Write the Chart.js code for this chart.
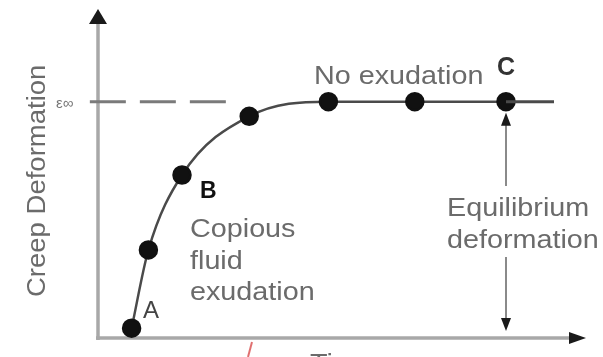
<!DOCTYPE html>
<html>
<head>
<meta charset="utf-8">
<title>Creep Deformation vs Time</title>
<script src="https://cdn.jsdelivr.net/npm/chart.js@4/dist/chart.umd.min.js"></script>
<style>
  html, body { margin: 0; padding: 0; background: #fff; }
  #wrap { width: 603px; height: 357px; }
  canvas { filter: blur(0.5px); }
</style>
</head>
<body>
<div id="wrap"><canvas id="c" width="603" height="357"></canvas></div>
<script>
// Measured creep curve (arbitrary units)
const time  = [7, 10.5, 17.5, 31.5, 48, 66, 85];
const creep = [3, 27, 50, 68, 72.5, 72.5, 72.5];
// Equilibrium deformation level (epsilon infinity)
const epsInf = 72.5;
// Where the plateau line and the dashed reference line end
const plateauEnd = 95;
const dashStart = -1.7;
const dashEnd = 27;
// Point at which the equilibrium deformation is marked
const markTime = 85;

const FONT = '"Liberation Sans", Arial, sans-serif';

function drawText(ctx, str, x, y, size, color, bold, sx) {
  ctx.save();
  ctx.font = (bold ? 'bold ' : '') + size + 'px ' + FONT;
  ctx.fillStyle = color;
  ctx.textBaseline = 'alphabetic';
  ctx.textAlign = 'left';
  ctx.translate(x, y);
  ctx.scale(sx || 1, 1);
  ctx.fillText(str, 0, 0);
  ctx.restore();
}

function tri(ctx, ax, ay, bx1, by1, bx2, by2, color) {
  ctx.beginPath();
  ctx.moveTo(ax, ay);
  ctx.lineTo(bx1, by1);
  ctx.lineTo(bx2, by2);
  ctx.closePath();
  ctx.fillStyle = color;
  ctx.fill();
}

const axesPlugin = {
  id: 'arrowAxes',
  beforeDatasetsDraw(chart) {
    const ctx = chart.ctx;
    const xs = chart.scales.x, ys = chart.scales.y;
    const x0 = xs.getPixelForValue(0);
    const y0 = ys.getPixelForValue(0);
    ctx.save();
    ctx.strokeStyle = '#a8a8a8';
    ctx.lineWidth = 3.5;
    // y axis
    ctx.beginPath();
    ctx.moveTo(x0, y0 + 2);
    ctx.lineTo(x0, 20);
    ctx.stroke();
    // x axis
    ctx.beginPath();
    ctx.moveTo(x0 - 2, y0);
    ctx.lineTo(572, y0);
    ctx.stroke();
    tri(ctx, x0, 9, x0 - 9, 24, x0 + 9, 24, '#1a1a1a');
    tri(ctx, 586, y0, 569, y0 - 6, 569, y0 + 6, '#1a1a1a');

    // equilibrium deformation double arrow
    const xm = xs.getPixelForValue(markTime);
    const yTop = ys.getPixelForValue(epsInf) + 11;
    const yBot = y0 - 7;
    ctx.strokeStyle = '#8a8a8a';
    ctx.lineWidth = 2;
    ctx.beginPath();
    ctx.moveTo(xm, yTop + 10);
    ctx.lineTo(xm, 186);
    ctx.moveTo(xm, 257);
    ctx.lineTo(xm, yBot - 10);
    ctx.stroke();
    tri(ctx, xm, yTop, xm - 5, yTop + 13, xm + 5, yTop + 13, '#1a1a1a');
    tri(ctx, xm, yBot, xm - 5, yBot - 13, xm + 5, yBot - 13, '#1a1a1a');

    // small red tick below the time axis
    ctx.strokeStyle = '#e07070';
    ctx.lineWidth = 2;
    ctx.beginPath();
    ctx.moveTo(252, 342);
    ctx.lineTo(248, 357);
    ctx.stroke();
    ctx.restore();
  },
  afterDatasetsDraw(chart) {
    const ctx = chart.ctx;
    const grey = '#6b6b6b';
    drawText(ctx, 'ε∞', 56, 108, 15, '#777', false, 1);
    drawText(ctx, 'No exudation', 314, 84, 25, grey, false, 1.15);
    drawText(ctx, 'C', 497, 75, 25, '#333', true, 1.0);
    drawText(ctx, 'B', 200, 198, 23, '#111', true, 1.0);
    drawText(ctx, 'A', 143, 318, 24, '#444', false, 1.0);
    drawText(ctx, 'Copious', 190, 237, 25, grey, false, 1.15);
    drawText(ctx, 'fluid', 190, 269, 25, grey, false, 1.15);
    drawText(ctx, 'exudation', 190, 300, 25, grey, false, 1.15);
    drawText(ctx, 'Equilibrium', 447, 216, 25, grey, false, 1.15);
    drawText(ctx, 'deformation', 447, 248, 25, grey, false, 1.15);
    drawText(ctx, 'Time', 310, 372, 25, grey, false, 1.15);
    // rotated y-axis title
    ctx.save();
    ctx.translate(45, 297);
    ctx.rotate(-Math.PI / 2);
    ctx.font = '25px ' + FONT;
    ctx.fillStyle = grey;
    ctx.scale(1.1, 1);
    ctx.fillText('Creep Deformation', 0, 0);
    ctx.restore();
  }
};

const curvePoints = time.map((t, i) => ({ x: t, y: creep[i] }));

new Chart(document.getElementById('c'), {
  type: 'scatter',
  data: {
    datasets: [
      {
        label: 'epsilon',
        data: [{ x: dashStart, y: epsInf }, { x: dashEnd, y: epsInf }],
        showLine: true,
        borderColor: '#7a7a7a',
        borderWidth: 3,
        borderDash: [36, 14],
        pointRadius: 0,
        clip: false
      },
      {
        label: 'plateau',
        data: [{ x: time[time.length - 1], y: epsInf }, { x: plateauEnd, y: epsInf }],
        showLine: true,
        borderColor: '#4a4a4a',
        borderWidth: 3,
        pointRadius: 0
      },
      {
        label: 'creep',
        data: curvePoints,
        showLine: true,
        borderColor: '#4a4a4a',
        borderWidth: 2.5,
        cubicInterpolationMode: 'monotone',
        pointRadius: 8.5,
        pointBackgroundColor: '#111',
        pointBorderColor: '#111',
        clip: false
      }
    ]
  },
  options: {
    responsive: false,
    animation: false,
    events: [],
    layout: { padding: { left: 98, right: 25, top: 12, bottom: 19 } },
    plugins: { legend: { display: false }, tooltip: { enabled: false } },
    scales: {
      x: { type: 'linear', min: 0, max: 100, display: false },
      y: { type: 'linear', min: 0, max: 100, display: false }
    }
  },
  plugins: [axesPlugin]
});
</script>
</body>
</html>
